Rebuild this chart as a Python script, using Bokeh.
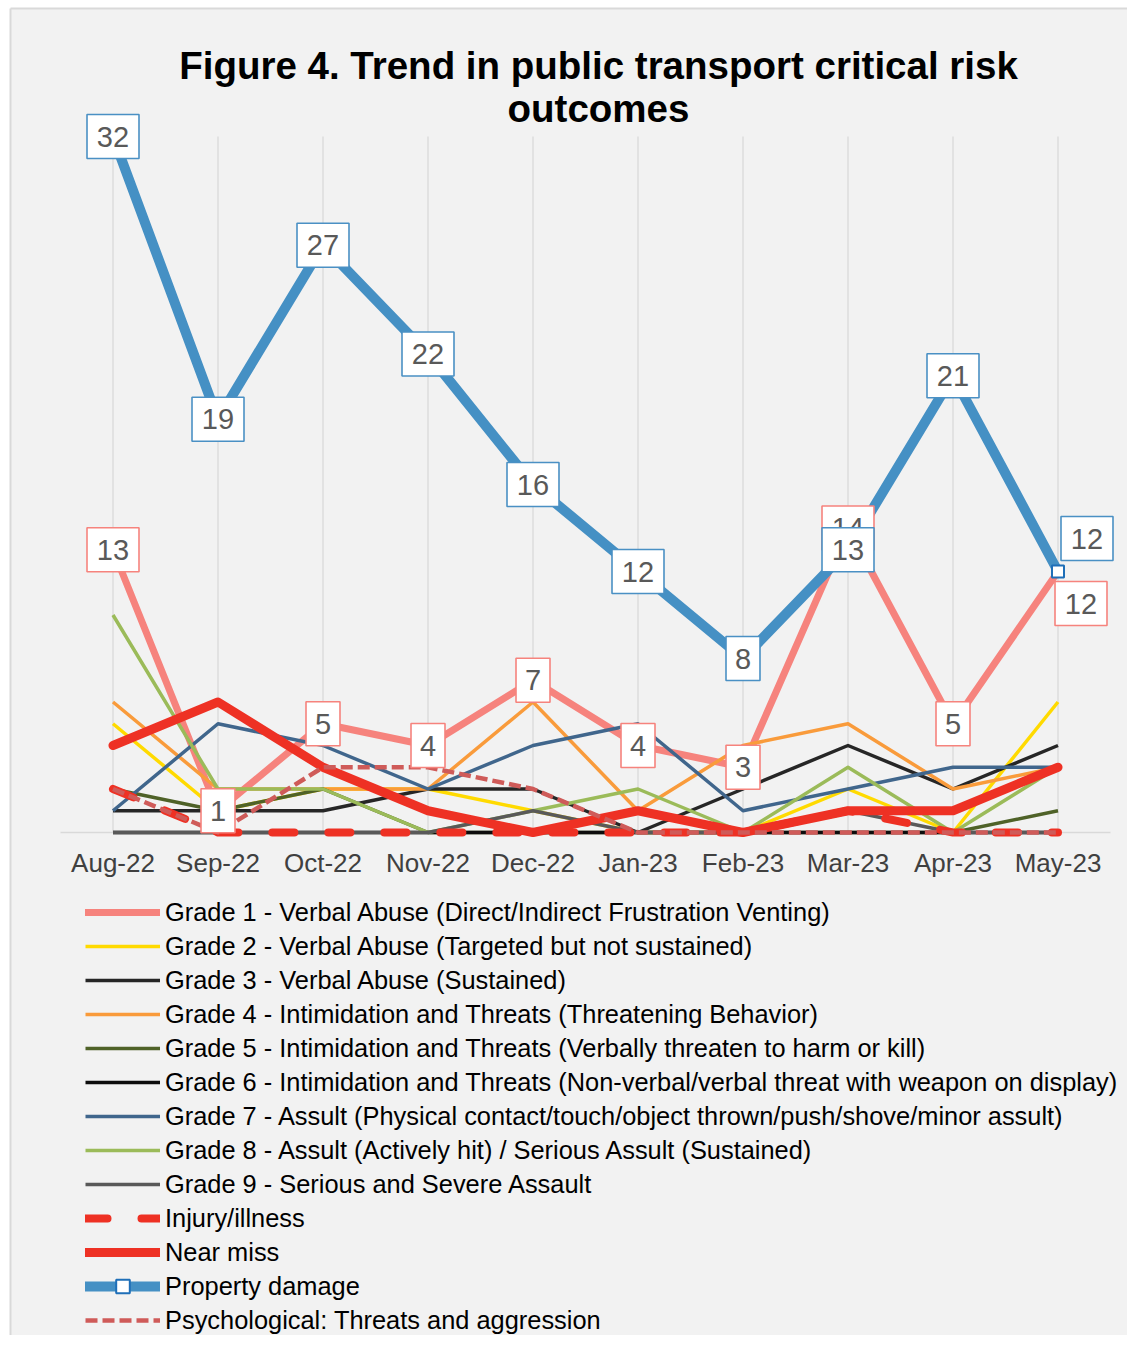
from bokeh.plotting import figure
from bokeh.models import Range1d, FixedTicker, Legend, LegendItem, ColumnDataSource, Label, BoxAnnotation
from bokeh.core.properties import value
from bokeh.embed import file_html
from bokeh.resources import INLINE

# ---------------- data ----------------
months = ["Aug-22", "Sep-22", "Oct-22", "Nov-22", "Dec-22", "Jan-23",
          "Feb-23", "Mar-23", "Apr-23", "May-23"]
grade1 = [13, 1, 5, 4, 7, 4, 3, 14, 5, 12]
grade2 = [5, 1, 2, 2, 1, 0, 0, 2, 0, 6]
grade3 = [1, 1, 1, 2, 2, 0, 2, 4, 2, 4]
grade4 = [6, 2, 2, 2, 6, 1, 4, 5, 2, 3]
grade5 = [2, 1, 2, 0, 0, 0, 0, 0, 0, 1]
grade6 = [0, 0, 0, 0, 0, 0, 0, 0, 0, 0]
grade7 = [1, 5, 4, 2, 4, 5, 1, 2, 3, 3]
grade8 = [10, 2, 2, 0, 1, 2, 0, 3, 0, 3]
grade9 = [0, 0, 0, 0, 1, 0, 0, 1, 0, 0]
injury = [2, 0, 0, 0, 0, 0, 0, 1, 0, 0]
near_miss = [4, 6, 3, 1, 0, 1, 0, 1, 1, 3]
property_damage = [32, 19, 27, 22, 16, 12, 8, 13, 21, 12]
psychological = [2, 0, 3, 3, 2, 0, 0, 0, 0, 0]

series_names = [
    "Grade 1 - Verbal Abuse (Direct/Indirect Frustration Venting)",
    "Grade 2 - Verbal Abuse (Targeted but not sustained)",
    "Grade 3 - Verbal Abuse (Sustained)",
    "Grade 4 - Intimidation and Threats (Threatening Behavior)",
    "Grade 5 - Intimidation and Threats (Verbally threaten to harm or kill)",
    "Grade 6 - Intimidation and Threats (Non-verbal/verbal threat with weapon on display)",
    "Grade 7 - Assult (Physical contact/touch/object thrown/push/shove/minor assult)",
    "Grade 8 - Assult (Actively hit) / Serious Assult (Sustained)",
    "Grade 9 - Serious and Severe Assault",
    "Injury/illness",
    "Near miss",
    "Property damage",
    "Psychological: Threats and aggression",
]
title_lines = ["Figure 4. Trend in public transport critical risk", "outcomes"]

# ---------------- layout constants (pixels) ----------------
PX_PER_X = 105.0          # px per category step
PX_PER_UNIT = 21.75       # px per count
CANVAS_W = 1127
CANVAS_H = 1335
PLOT_LEFT_PX = 60         # left edge of the category band
ZERO_PX = 832             # y pixel of the value 0
X0 = -0.5 - PLOT_LEFT_PX / PX_PER_X
X1 = X0 + CANVAS_W / PX_PER_X
Y1 = ZERO_PX / PX_PER_UNIT
Y0 = Y1 - CANVAS_H / PX_PER_UNIT
FONT = "Liberation Sans"
BG = "#F2F2F2"
GRID_TOP = 32


def px_x(px):
    return X0 + px / PX_PER_X


def px_y(py):
    return Y1 - py / PX_PER_UNIT


xs = list(range(len(months)))

p = figure(frame_width=CANVAS_W, frame_height=CANVAS_H,
           x_range=Range1d(X0, X1), y_range=Range1d(Y0, Y1),
           output_backend="svg", toolbar_location=None,
           min_border_left=0, min_border_right=0, min_border_top=0, min_border_bottom=0)
p.background_fill_color = "white"
p.border_fill_color = "white"
p.outline_line_color = None
p.yaxis.visible = False
p.ygrid.visible = False
p.xgrid.visible = False

# chart area background and its border (top / left edges)
p.add_layout(BoxAnnotation(left=px_x(10), top=px_y(8), fill_color=BG, fill_alpha=1.0,
                           line_color=None, level="underlay"))
p.segment(x0=[px_x(10), px_x(10)], y0=[px_y(8), px_y(8)],
          x1=[X1, px_x(10)], y1=[px_y(8), Y0], line_color="#D9D9D9", line_width=2)

# x axis (category labels), drawn at y = 0
ax = p.xaxis[0]
ax.fixed_location = 0
ax.ticker = FixedTicker(ticks=xs)
ax.major_label_overrides = {i: m for i, m in enumerate(months)}
ax.axis_line_color = None
ax.major_tick_line_color = None
ax.minor_tick_line_color = None
ax.major_tick_out = 0
ax.major_tick_in = 0
ax.major_label_standoff = 15
ax.major_label_text_font = FONT
ax.major_label_text_font_size = "26px"
ax.major_label_text_color = "#404040"

# vertical gridlines
p.segment(x0=xs, y0=[0] * len(xs), x1=xs, y1=[GRID_TOP] * len(xs),
          line_color="#D9D9D9", line_width=1.3)
# horizontal category-axis line at 0
p.segment(x0=[xs[0] - 0.5], y0=[0], x1=[xs[-1] + 0.5], y1=[0],
          line_color="#D9D9D9", line_width=1.5)

styles = [
    (grade1, "#F6837D", 7, None, "round"),
    (grade2, "#FFDA00", 3.5, None, "butt"),
    (grade3, "#262626", 3.5, None, "butt"),
    (grade4, "#F99B3B", 3.5, None, "butt"),
    (grade5, "#4F6228", 3.5, None, "butt"),
    (grade6, "#0D0D0D", 3.5, None, "butt"),
    (grade7, "#40668C", 3.5, None, "butt"),
    (grade8, "#9BBB59", 3.5, None, "butt"),
    (grade9, "#595959", 3.5, None, "butt"),
    (injury, "#EE3124", 8, "22 34", "round"),
    (near_miss, "#EE3124", 9, None, "round"),
    (property_damage, "#4590C4", 10, None, "round"),
    (psychological, "#CF5B59", 4.5, "12 5", "butt"),
]

renderers = []
for vals, color, w, dash, cap in styles:
    kw = dict(line_color=color, line_width=w, line_cap=cap, line_join="round")
    if dash:
        kw["line_dash"] = dash
    r = p.line(xs, vals, **kw)
    renderers.append([r])

# property damage marker on last point
pm = p.scatter(xs[-1:], property_damage[-1:], marker="square", size=12,
               fill_color="white", line_color="#1F6FB8", line_width=2)
renderers[11].append(pm)

# ---------------- data labels ----------------
def add_labels(vals, color, last_dx_px, last_dy_px):
    lx, ly, lt, lw = [], [], [], []
    for i, v in enumerate(vals):
        x, y = xs[i], v
        if i == len(vals) - 1:
            x += last_dx_px / PX_PER_X
            y += last_dy_px / PX_PER_UNIT
        lx.append(x)
        ly.append(y)
        lt.append(str(v))
        lw.append(16 + 18 * len(str(v)))
    src = ColumnDataSource(dict(x=lx, y=ly, t=lt, w=lw))
    p.rect(x="x", y="y", width="w", height=44, width_units="screen", height_units="screen",
           fill_color="white", line_color=color, line_width=1.6, source=src)
    p.text(x="x", y="y", text="t", source=src, text_align="center", text_baseline="middle",
           text_font=value(FONT), text_font_size="29px", text_color="#595959")

add_labels(grade1, "#F6837D", 23, -32)
add_labels(property_damage, "#4A90C4", 29, 33)

# ---------------- title ----------------
for line, ypx in zip(title_lines, [65, 108]):
    p.add_layout(Label(x=px_x(598), y=px_y(ypx), text=line, text_align="center",
                       text_baseline="middle", text_font=FONT, text_font_size="38.5px",
                       text_font_style="bold", text_color="#000000"))

# ---------------- legend ----------------
items = [LegendItem(label=n, renderers=r) for n, r in zip(series_names, renderers)]
legend = Legend(items=items, location=(85, -2), margin=0, padding=0, spacing=0,
                glyph_width=75, glyph_height=34, label_height=34, label_standoff=5,
                label_text_font=FONT, label_text_font_size="25.4px", label_text_color="#000000",
                background_fill_alpha=0, border_line_color=None)
p.add_layout(legend, "center")

open("out.html", "w").write(file_html(p, INLINE))
